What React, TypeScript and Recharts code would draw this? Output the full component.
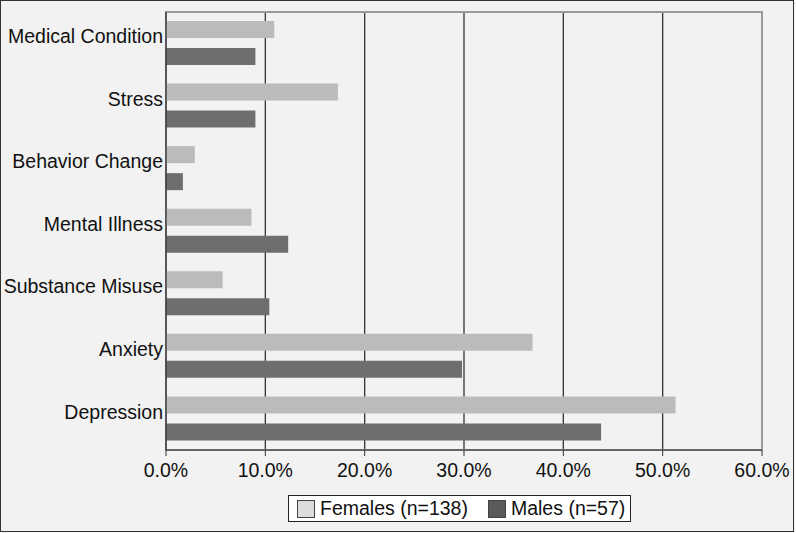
import React from "react";
import {
  BarChart,
  Bar,
  XAxis,
  YAxis,
  CartesianGrid,
  ReferenceArea,
} from "recharts";

const categories = [
  "Medical Condition",
  "Stress",
  "Behavior Change",
  "Mental Illness",
  "Substance Misuse",
  "Anxiety",
  "Depression",
];
const females = [10.9, 17.3, 2.9, 8.6, 5.7, 36.9, 51.3];
const males = [9.0, 9.0, 1.7, 12.3, 10.4, 29.8, 43.8];
const xTicks = [0, 10, 20, 30, 40, 50, 60];

const data = categories.map((name, i) => ({
  name,
  females: females[i],
  males: males[i],
}));

const FONT = '"Liberation Sans", Arial, Helvetica, sans-serif';
const FS = 19.5;

function CategoryTick({ x, y, payload }: { x?: number; y?: number; payload?: { value: string } }) {
  return (
    <text
      x={x}
      y={(y ?? 0) - 7}
      dy="0.355em"
      textAnchor="end"
      fontSize={FS}
      fontFamily={FONT}
      fill="#111"
    >
      {payload?.value}
    </text>
  );
}

function LegendBox() {
  const swatch = (color: string) => ({
    display: "inline-block",
    width: 16,
    height: 16,
    background: color,
    border: "1px solid #444",
    marginRight: 5,
  });
  return (
    <div
      style={{
        position: "absolute",
        left: 288,
        top: 495,
        width: 343,
        height: 27,
        background: "#fff",
        border: "1px solid #222",
        display: "flex",
        alignItems: "center",
        fontFamily: FONT,
        fontSize: FS,
        color: "#111",
        paddingLeft: 8,
        boxSizing: "border-box",
      }}
    >
      <span style={swatch("#dcdcdc")} />
      <span style={{ marginRight: 20 }}>Females (n=138)</span>
      <span style={swatch("#5a5a5a")} />
      <span>Males (n=57)</span>
    </div>
  );
}

export default function App() {
  return (
    <div
      style={{
        position: "absolute",
        left: 0,
        top: 0,
        width: 796,
        height: 533,
        background: "#f7f7f7",
      }}
    >
      <div
        style={{
          position: "absolute",
          left: 0,
          top: 0,
          width: 794,
          height: 532,
          border: "1.5px solid #333",
          boxSizing: "border-box",
          background: "#f2f2f2",
        }}
      />
      <div style={{ position: "absolute", left: 0, top: 0 }}>
        <BarChart
          width={796}
          height={533}
          data={data}
          layout="vertical"
          margin={{ top: 12, right: 34, bottom: 53, left: 0 }}
          barSize={17}
          barGap={10}
        >
          <CartesianGrid horizontal={false} stroke="#333" strokeWidth={1.3} />
          <XAxis
            type="number"
            domain={[0, 60]}
            ticks={xTicks}
            tickFormatter={(v: number) => `${v.toFixed(1)}%`}
            height={30}
            tickSize={6}
            tickMargin={7}
            interval={0}
            stroke="#333"
            tick={{ fontSize: FS, fontFamily: FONT, fill: "#111" }}
          />
          <YAxis
            type="category"
            dataKey="name"
            width={166}
            tickLine={false}
            tickSize={0}
            tickMargin={3}
            stroke="#333"
            strokeWidth={1.3}
            interval={0}
            tick={<CategoryTick />}
          />
          <ReferenceArea
            x1={0}
            x2={60}
            fill="none"
            stroke="#9a9a9a"
            strokeWidth={2}
          />
          <Bar dataKey="females" fill="#bbbbbb" isAnimationActive={false} />
          <Bar dataKey="males" fill="#6e6e6e" isAnimationActive={false} />
        </BarChart>
      </div>
      <LegendBox />
    </div>
  );
}
